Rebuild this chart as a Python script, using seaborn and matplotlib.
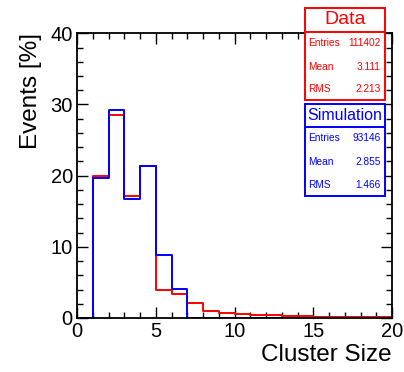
import matplotlib
matplotlib.use('Agg')

import numpy as np
import pandas as pd
import matplotlib.pyplot as plt
from matplotlib.patches import Rectangle
from matplotlib.ticker import MultipleLocator
import seaborn as sns

# bin edges (cluster size 0..20, width 1)
bin_edges = list(range(0, 21))

# percentage of events per bin
data_pct = [0.0, 20.0, 28.5, 17.1, 21.3, 3.9, 3.3, 2.07, 1.0, 0.75,
            0.6, 0.38, 0.35, 0.3, 0.25, 0.2, 0.15, 0.12, 0.1, 0.08]
sim_pct = [0.0, 19.7, 29.2, 16.7, 21.3, 8.9, 4.1, 0.0, 0.0, 0.0,
           0.0, 0.0, 0.0, 0.0, 0.0, 0.0, 0.0, 0.0, 0.0, 0.0]

# stat box contents
data_stats = [("Entries", "111402"), ("Mean", "3.111"), ("RMS", "2.213")]
sim_stats = [("Entries", "93146"), ("Mean", "2.855"), ("RMS", "1.466")]

sns.set_theme(style='ticks')
plt.rcParams['font.family'] = ['Liberation Sans', 'DejaVu Sans']
plt.rcParams['text.color'] = 'black'
plt.rcParams['axes.labelcolor'] = 'black'

centers = np.array(bin_edges[:-1]) + 0.5
df = pd.DataFrame({'size': np.concatenate([centers, centers]),
                   'pct': data_pct + sim_pct,
                   'sample': ['Data'] * 20 + ['Simulation'] * 20})

fig = plt.figure(figsize=(4.04, 3.72), dpi=100)
ax = fig.add_axes([0.1906, 0.1452, 0.7797, 0.7653])

sns.histplot(data=df[df['sample'] == 'Data'], x='size', weights='pct',
             bins=bin_edges, element='step', fill=False, color='#ff0000',
             linewidth=1.4, ax=ax)
sns.histplot(data=df[df['sample'] == 'Simulation'], x='size', weights='pct',
             bins=bin_edges, element='step', fill=False, color='#0000ff',
             linewidth=1.4, ax=ax)

ax.set_xlim(0, 20)
ax.set_ylim(0, 40)
ax.xaxis.set_major_locator(MultipleLocator(5))
ax.xaxis.set_minor_locator(MultipleLocator(1))
ax.yaxis.set_major_locator(MultipleLocator(10))
ax.yaxis.set_minor_locator(MultipleLocator(2))
ax.tick_params(which='both', direction='in', top=True, right=True,
               labelsize=14.5, colors='black', width=1)
ax.tick_params(which='major', length=8, pad=3)
ax.tick_params(which='minor', length=4)
for s in ax.spines.values():
    s.set_linewidth(1.3)
    s.set_color('black')

ax.set_xlabel('Cluster Size', fontsize=17.5, loc='right', labelpad=2, color='black')
ax.set_ylabel('Events [%]', fontsize=17.5, loc='top', labelpad=6, color='black')


def stat_box(top, div, bottom, title, title_size, rows, row_y, color):
    x0, x1 = 305 / 404, 385 / 404
    H = 372
    fig.add_artist(Rectangle((x0, 1 - bottom / H), x1 - x0, (bottom - top) / H,
                             transform=fig.transFigure, facecolor='white',
                             edgecolor=color, linewidth=1.4, zorder=5))
    fig.add_artist(plt.Line2D([x0, x1], [1 - div / H, 1 - div / H],
                              transform=fig.transFigure, color=color,
                              linewidth=1.4, zorder=6))
    fig.text((x0 + x1) / 2, 1 - (top + div) / 2 / H, title, color=color,
             fontsize=title_size, ha='center', va='center', zorder=7)
    for (lab, val), y in zip(rows, row_y):
        fig.text(308.5 / 404, 1 - y / H, lab, color=color, fontsize=7.3,
                 ha='left', va='center', zorder=7)
        fig.text(380.7 / 404, 1 - y / H, val, color=color, fontsize=7.3,
                 ha='right', va='center', zorder=7)


stat_box(8, 31.7, 100, 'Data', 14, data_stats, [42.7, 66.7, 89.3], '#ff0000')
stat_box(104, 127.3, 196, 'Simulation', 11.5, sim_stats, [138.3, 161.7, 185], '#0000ff')

fig.savefig('out.png', dpi=100)
